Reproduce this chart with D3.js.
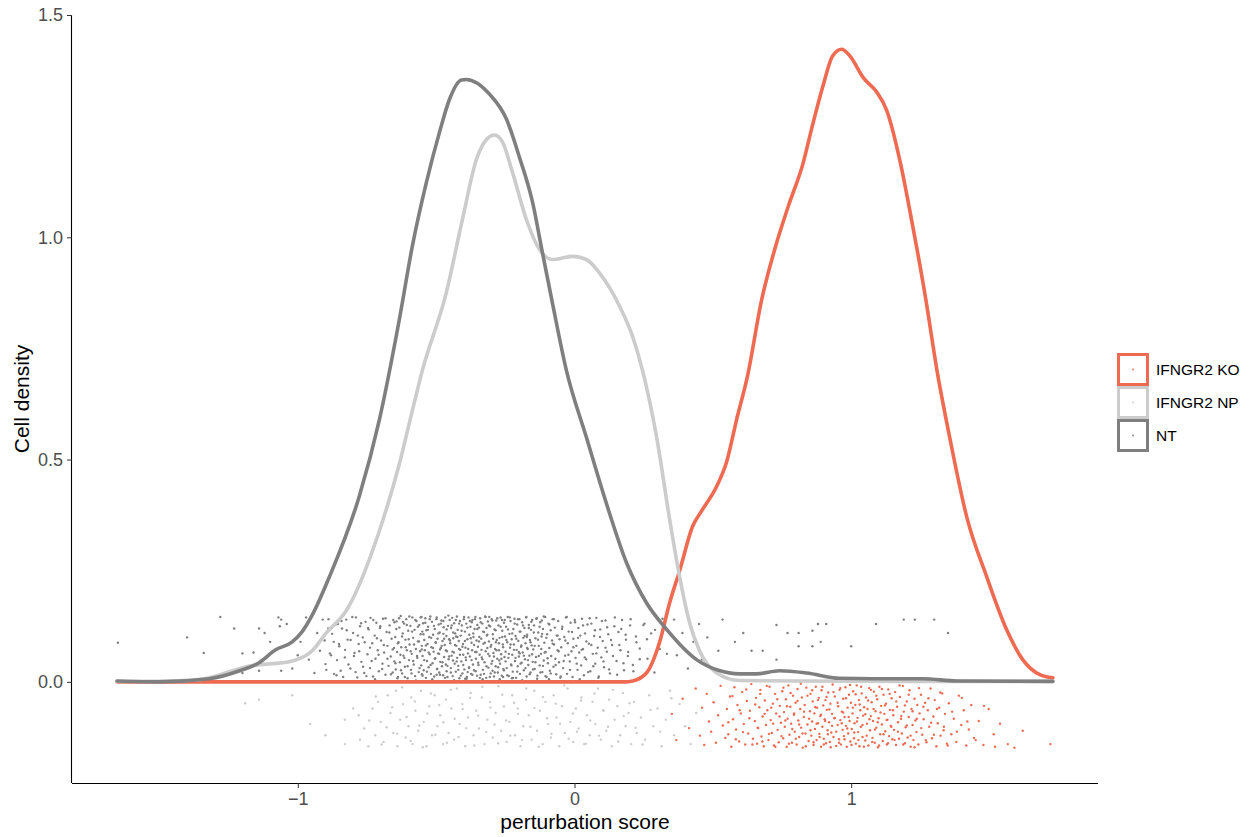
<!DOCTYPE html>
<html lang="en">
<head>
    <meta charset="utf-8">
    <title>Perturbation score density</title>
    <script src="https://d3js.org/d3.v7.min.js" charset="utf-8"></script>
    <style>
        body { margin: 0; background: #fff; }
        text { font-family: "Liberation Sans", Arial, sans-serif; }
    </style>
</head>
<body>
<svg id="chart" width="1253" height="837"></svg>
<script type="text/javascript">
    // groups, in drawing order
    var groups = ["IFNGR2 KO", "IFNGR2 NP", "NT"];
    var colours = ["#EE6A50", "#CCCCCC", "#7F7F7F"];

    var xTicks = [-1, 0, 1];
    var xTickLabels = ["\u22121", "0", "1"];
    var yTicks = [0, 0.5, 1, 1.5];
    var yTickLabels = ["0.0", "0.5", "1.0", "1.5"];

    // density curves: [score, density]
    var densKO = [[-1.653,0],[-1.0,0],[0,0],[0.181,0],[0.21,0.002],[0.26,0.02],[0.307,0.088],
        [0.344,0.178],[0.38,0.25],[0.427,0.35],[0.46,0.385],[0.514,0.44],[0.55,0.495],[0.586,0.59],
        [0.626,0.69],[0.676,0.858],[0.727,0.98],[0.774,1.072],[0.825,1.164],[0.861,1.254],
        [0.897,1.338],[0.933,1.408],[0.966,1.423],[0.995,1.408],[1.045,1.358],[1.092,1.327],
        [1.128,1.286],[1.179,1.164],[1.215,1.05],[1.266,0.874],[1.313,0.69],[1.356,0.55],
        [1.418,0.37],[1.49,0.236],[1.562,0.117],[1.62,0.05],[1.682,0.016],[1.729,0.009]];

    var densNP = [[-1.653,0.001],[-1.5,0.001],[-1.356,0.005],[-1.25,0.022],[-1.186,0.034],[-1.02,0.047],
        [-0.948,0.07],[-0.897,0.11],[-0.825,0.16],[-0.705,0.34],[-0.633,0.49],[-0.586,0.61],
        [-0.55,0.70],[-0.463,0.876],[-0.405,1.04],[-0.354,1.176],[-0.318,1.22],[-0.289,1.23],
        [-0.26,1.214],[-0.224,1.146],[-0.174,1.04],[-0.127,0.973],[-0.08,0.95],[-0.007,0.957],
        [0.043,0.95],[0.09,0.92],[0.163,0.845],[0.21,0.777],[0.246,0.70],[0.297,0.55],
        [0.344,0.365],[0.38,0.236],[0.416,0.133],[0.452,0.07],[0.514,0.02],[0.597,0.003],
        [0.814,0.002],[1.2,0.001],[1.729,0.001]];

    var densNT = [[-1.653,0.002],[-1.5,0.0],[-1.32,0.007],[-1.21,0.025],[-1.14,0.043],[-1.08,0.072],
        [-1.02,0.09],[-0.984,0.113],[-0.948,0.15],[-0.886,0.236],[-0.778,0.417],[-0.705,0.59],
        [-0.633,0.815],[-0.586,0.98],[-0.535,1.124],[-0.488,1.236],[-0.452,1.31],[-0.409,1.354],
        [-0.391,1.355],[-0.307,1.322],[-0.246,1.266],[-0.199,1.18],[-0.152,1.08],[-0.116,0.966],
        [-0.08,0.853],[-0.029,0.70],[0.043,0.55],[0.116,0.40],[0.188,0.268],[0.26,0.178],
        [0.333,0.118],[0.441,0.05],[0.52,0.026],[0.597,0.018],[0.658,0.018],[0.741,0.025],
        [0.839,0.02],[0.958,0.008],[1.078,0.007],[1.259,0.007],[1.382,0.002],[1.729,0.001]];

    // jittered cells: [score, jitter]
    var pointsNT = [[-1.65,0.088],[-1.40,0.10],[-1.34,0.065],[-1.28,0.146],[-1.23,0.12],[-1.2,0.064],
        [-1.2,0.02],[-1.16,0.066],[-1.14,0.12],[-1.14,0.025],[-1.12,0.11],[-1.1,0.09],[-1.07,0.145],
        [-1.065,0.125],[-1.06,0.14],[-1.06,0.025],[-1.04,0.13],[-1.02,0.03],[-1.0,0.06],[-0.99,0.09],
        [-0.97,0.145],[-0.96,0.05],
        [-0.94,0.02],[-0.93,0.11],[-0.92,0.07],[-0.91,0.14],[-0.90,0.04],[-0.89,0.12],[-0.88,0.06],
        [-0.87,0.09],[-0.86,0.015],[-0.855,0.13],
        [-0.85,0.08],[-0.845,0.025],[-0.84,0.12],[-0.83,0.055],[-0.825,0.14],[-0.82,0.095],[-0.81,0.03],
        [-0.80,0.11],[-0.795,0.065],[-0.79,0.145],[-0.785,0.01],[-0.78,0.085],[-0.775,0.125],
        [-0.77,0.045],[-0.765,0.10],[-0.76,0.02],[-0.755,0.135],
        [-0.748,0.062],[-0.744,0.118],[-0.739,0.031],[-0.737,0.144],[-0.731,0.087],[-0.728,0.012],
        [-0.722,0.104],[-0.719,0.052],[-0.716,0.133],[-0.711,0.071],[-0.707,0.024],[-0.703,0.121],
        [-0.699,0.093],[-0.694,0.041],[-0.692,0.142],[-0.688,0.066],[-0.683,0.016],[-0.679,0.112],
        [-0.676,0.081],[-0.672,0.036],[-0.668,0.127],[-0.664,0.057],[-0.661,0.097],[-0.657,0.021],
        [-0.655,0.139],[-0.652,0.076],[-0.651,0.046],
        [-0.648,0.101],[-0.646,0.028],[-0.643,0.136],[-0.641,0.067],[-0.638,0.011],[-0.636,0.089],
        [-0.633,0.122],[-0.631,0.044],[-0.628,0.148],[-0.626,0.078],[-0.623,0.019],[-0.621,0.109],
        [-0.618,0.059],[-0.616,0.131],[-0.613,0.034],[-0.611,0.095],[-0.608,0.141],[-0.606,0.071],
        [-0.603,0.008],[-0.601,0.115],[-0.598,0.049],[-0.596,0.084],[-0.593,0.126],[-0.591,0.027],
        [-0.588,0.063],[-0.586,0.145],[-0.583,0.099],[-0.581,0.039],[-0.578,0.117],[-0.576,0.013],
        [-0.573,0.074],[-0.571,0.137],[-0.568,0.054],[-0.566,0.091],[-0.563,0.022],[-0.561,0.128],
        [-0.558,0.069],[-0.556,0.107],[-0.554,0.037],[-0.553,0.146],[-0.552,0.081],[-0.551,0.017],
        [-0.55,0.113],
        [-0.549,0.058],[-0.547,0.132],[-0.545,0.026],[-0.543,0.094],[-0.541,0.071],[-0.539,0.143],
        [-0.537,0.009],[-0.535,0.116],[-0.533,0.047],[-0.531,0.085],[-0.529,0.124],[-0.527,0.033],
        [-0.525,0.101],[-0.523,0.062],[-0.521,0.147],[-0.519,0.018],[-0.517,0.078],[-0.515,0.135],
        [-0.513,0.042],[-0.511,0.106],[-0.509,0.068],[-0.507,0.012],[-0.505,0.119],[-0.503,0.053],
        [-0.501,0.088],[-0.499,0.141],[-0.497,0.029],[-0.495,0.097],[-0.493,0.064],[-0.491,0.129],
        [-0.489,0.021],[-0.487,0.111],[-0.485,0.045],[-0.483,0.076],[-0.481,0.138],[-0.479,0.035],
        [-0.477,0.092],[-0.475,0.015],[-0.473,0.123],[-0.471,0.056],[-0.469,0.083],[-0.467,0.145],
        [-0.465,0.039],[-0.463,0.103],[-0.461,0.069],[-0.459,0.011],[-0.457,0.126],[-0.455,0.051],
        [-0.453,0.096],[-0.451,0.139],[-0.462,0.024],[-0.474,0.108],[-0.486,0.073],[-0.498,0.016],
        [-0.449,0.087],[-0.447,0.031],[-0.446,0.121],[-0.444,0.059],[-0.442,0.144],[-0.44,0.013],
        [-0.438,0.098],[-0.436,0.066],[-0.435,0.132],[-0.433,0.041],[-0.431,0.109],[-0.429,0.023],
        [-0.427,0.081],[-0.425,0.147],[-0.424,0.054],[-0.422,0.117],[-0.42,0.036],[-0.418,0.092],
        [-0.416,0.008],[-0.414,0.137],[-0.413,0.072],[-0.411,0.104],[-0.409,0.046],[-0.407,0.127],
        [-0.405,0.019],[-0.403,0.085],[-0.402,0.061],[-0.4,0.141],[-0.398,0.028],[-0.396,0.113],
        [-0.394,0.077],[-0.392,0.049],[-0.391,0.131],[-0.389,0.011],[-0.387,0.096],[-0.385,0.064],
        [-0.383,0.145],[-0.381,0.033],[-0.38,0.106],[-0.378,0.057],[-0.376,0.124],[-0.374,0.018],
        [-0.372,0.088],[-0.37,0.071],[-0.369,0.139],[-0.367,0.039],[-0.365,0.101],[-0.363,0.026],
        [-0.361,0.119],[-0.359,0.067],[-0.358,0.146],[-0.356,0.052],[-0.354,0.093],[-0.352,0.014],
        [-0.351,0.128],[-0.395,0.007],[-0.417,0.074],[-0.428,0.102],[-0.439,0.048],[-0.371,0.134],
        [-0.386,0.022],
        [-0.349,0.079],[-0.347,0.038],[-0.345,0.122],[-0.343,0.061],[-0.341,0.143],[-0.339,0.016],
        [-0.337,0.097],[-0.335,0.055],[-0.333,0.131],[-0.331,0.027],[-0.329,0.086],[-0.327,0.112],
        [-0.325,0.044],[-0.323,0.147],[-0.321,0.069],[-0.319,0.009],[-0.317,0.104],[-0.315,0.076],
        [-0.313,0.136],[-0.311,0.032],[-0.309,0.091],[-0.307,0.058],[-0.305,0.125],[-0.303,0.019],
        [-0.301,0.083],[-0.299,0.141],[-0.297,0.047],[-0.295,0.107],[-0.293,0.065],[-0.291,0.012],
        [-0.289,0.118],[-0.287,0.074],[-0.285,0.035],[-0.283,0.138],[-0.281,0.094],[-0.279,0.052],
        [-0.277,0.021],[-0.275,0.127],[-0.273,0.071],[-0.271,0.099],[-0.269,0.041],[-0.267,0.145],
        [-0.265,0.062],[-0.263,0.014],[-0.261,0.115],[-0.259,0.084],[-0.257,0.029],[-0.255,0.133],
        [-0.253,0.056],[-0.251,0.102],[-0.332,0.006],[-0.318,0.121],[-0.296,0.025],[-0.284,0.089],
        [-0.272,0.048],[-0.262,0.139],[-0.344,0.101],[-0.308,0.146],[-0.258,0.011],
        [-0.249,0.068],[-0.247,0.124],[-0.245,0.031],[-0.243,0.089],[-0.241,0.146],[-0.239,0.054],
        [-0.237,0.013],[-0.235,0.108],[-0.233,0.077],[-0.231,0.137],[-0.229,0.039],[-0.227,0.096],
        [-0.225,0.061],[-0.223,0.023],[-0.221,0.119],[-0.219,0.084],[-0.217,0.142],[-0.215,0.047],
        [-0.213,0.103],[-0.211,0.009],[-0.209,0.072],[-0.207,0.129],[-0.205,0.035],[-0.203,0.092],
        [-0.201,0.057],[-0.199,0.141],[-0.197,0.018],[-0.195,0.113],[-0.193,0.079],[-0.191,0.043],
        [-0.189,0.134],[-0.187,0.066],[-0.185,0.099],[-0.183,0.026],[-0.181,0.121],[-0.179,0.051],
        [-0.177,0.087],[-0.175,0.145],[-0.173,0.012],[-0.171,0.106],[-0.169,0.074],[-0.167,0.038],
        [-0.165,0.128],[-0.163,0.059],[-0.161,0.094],[-0.159,0.021],[-0.157,0.117],[-0.155,0.082],
        [-0.153,0.139],[-0.151,0.045],[-0.226,0.008],[-0.198,0.064],[-0.172,0.101],
        [-0.149,0.073],[-0.146,0.127],[-0.144,0.029],[-0.141,0.098],[-0.139,0.056],[-0.136,0.143],
        [-0.134,0.014],[-0.131,0.111],[-0.129,0.081],[-0.126,0.037],[-0.124,0.134],[-0.121,0.063],
        [-0.119,0.102],[-0.116,0.022],[-0.114,0.119],[-0.111,0.048],[-0.109,0.088],[-0.106,0.146],
        [-0.104,0.067],[-0.101,0.011],[-0.099,0.107],[-0.096,0.042],[-0.094,0.131],[-0.091,0.076],
        [-0.089,0.025],[-0.086,0.116],[-0.084,0.058],[-0.081,0.093],[-0.079,0.141],[-0.076,0.034],
        [-0.074,0.084],[-0.071,0.122],[-0.069,0.052],[-0.066,0.017],[-0.064,0.104],[-0.061,0.071],
        [-0.059,0.137],[-0.056,0.044],[-0.054,0.096],[-0.051,0.009],[-0.118,0.138],[-0.092,0.006],
        [-0.048,0.078],[-0.044,0.124],[-0.041,0.031],[-0.037,0.101],[-0.034,0.059],[-0.031,0.145],
        [-0.027,0.018],[-0.024,0.087],[-0.021,0.113],[-0.017,0.046],[-0.014,0.133],[-0.011,0.069],
        [-0.007,0.011],[-0.004,0.097],[0.001,0.139],[0.004,0.054],[0.007,0.081],[0.011,0.027],
        [0.014,0.121],[0.017,0.066],[0.021,0.104],[0.024,0.037],[0.027,0.142],[0.031,0.074],
        [0.034,0.015],[0.038,0.109],[0.042,0.051],[0.047,0.129],
        [0.052,0.086],[0.057,0.024],[0.061,0.131],[0.066,0.063],[0.071,0.103],[0.075,0.041],
        [0.079,0.144],[0.084,0.077],[0.088,0.012],[0.093,0.118],[0.097,0.055],[0.102,0.092],
        [0.107,0.033],[0.112,0.138],[0.117,0.068],[0.122,0.107],[0.128,0.019],[0.136,0.083],
        [0.144,0.125],
        [0.152,0.047],[0.159,0.112],[0.166,0.071],[0.172,0.139],[0.179,0.026],[0.186,0.095],
        [0.193,0.058],[0.201,0.127],[0.211,0.038],[0.222,0.102],[0.236,0.075],
        [0.253,0.131],[0.264,0.052],[0.277,0.109],[0.289,0.021],[0.305,0.087],[0.318,0.142],
        [0.334,0.063],[0.36,0.14],[0.37,0.06],[0.39,0.11],[0.41,0.03],[0.43,0.09],[0.45,0.13],
        [0.46,0.05],[0.48,0.10],[0.52,0.07],[0.535,0.14],[0.58,0.09],[0.61,0.11],[0.64,0.07],
        [0.68,0.07],[0.73,0.128],[0.73,0.05],[0.77,0.11],[0.81,0.11],[0.81,0.08],[0.86,0.115],
        [0.86,0.08],[0.88,0.13],[0.89,0.09],[0.91,0.13],[1.0,0.08],[1.09,0.13],[1.19,0.14],
        [1.23,0.14],[1.30,0.14],[1.35,0.11]];

    // second pass over the dense NT cloud
    var pointsNTcore = [[-0.903,0.093],[-0.897,0.027],[-0.889,0.141],[-0.884,0.064],[-0.876,0.108],
        [-0.869,0.018],[-0.863,0.129],[-0.858,0.049],[-0.851,0.085],[-0.842,0.137],[-0.836,0.011],
        [-0.829,0.072],[-0.823,0.116],[-0.817,0.039],[-0.809,0.094],[-0.803,0.146],[-0.797,0.058],
        [-0.791,0.022],[-0.783,0.104],[-0.778,0.069],[-0.771,0.132],[-0.764,0.034],[-0.758,0.089],
        [-0.752,0.013],[-0.746,0.121],[-0.739,0.077],[-0.733,0.047],[-0.727,0.139],[-0.721,0.006],
        [-0.714,0.098],[-0.708,0.061],[-0.702,0.125],[-0.695,0.029],[-0.689,0.083],[-0.683,0.143],
        [-0.676,0.052],[-0.669,0.111],[-0.663,0.017],[-0.657,0.073],[-0.651,0.134],
        [-0.647,0.042],[-0.644,0.119],[-0.640,0.008],[-0.638,0.087],[-0.634,0.143],[-0.629,0.061],
        [-0.627,0.026],[-0.623,0.102],[-0.620,0.135],[-0.615,0.054],[-0.613,0.011],[-0.610,0.078],
        [-0.606,0.128],[-0.603,0.035],[-0.599,0.096],[-0.597,0.147],[-0.592,0.069],[-0.589,0.019],
        [-0.587,0.113],[-0.583,0.047],[-0.580,0.084],[-0.575,0.139],[-0.573,0.003],[-0.569,0.058],
        [-0.566,0.124],[-0.562,0.091],[-0.560,0.031],[-0.556,0.145],[-0.552,0.073],[-0.549,0.014],
        [-0.546,0.107],[-0.543,0.049],[-0.539,0.133],[-0.537,0.082],[-0.533,0.023],[-0.530,0.117],
        [-0.527,0.066],[-0.523,0.141],[-0.520,0.038],[-0.518,0.099],[-0.514,0.006],[-0.511,0.076],
        [-0.508,0.126],[-0.505,0.052],[-0.502,0.089],[-0.498,0.145],[-0.496,0.029],[-0.492,0.109],
        [-0.489,0.063],[-0.486,0.016],[-0.483,0.131],[-0.480,0.081],[-0.477,0.044],[-0.474,0.137],
        [-0.471,0.097],[-0.468,0.009],[-0.465,0.071],[-0.462,0.118],[-0.459,0.036],[-0.456,0.149],
        [-0.453,0.057],[-0.450,0.093],[-0.447,0.021],[-0.444,0.127],[-0.441,0.068],[-0.438,0.111],
        [-0.435,0.004],[-0.432,0.083],[-0.429,0.139],[-0.426,0.046],[-0.423,0.101],[-0.420,0.027],
        [-0.417,0.131],[-0.414,0.061],[-0.411,0.014],[-0.408,0.115],[-0.405,0.079],[-0.402,0.038],
        [-0.399,0.146],[-0.396,0.092],[-0.393,0.055],[-0.390,0.007],[-0.387,0.122],[-0.384,0.074],
        [-0.381,0.031],[-0.378,0.137],[-0.375,0.098],[-0.372,0.049],[-0.369,0.016],[-0.366,0.109],
        [-0.363,0.083],[-0.360,0.141],[-0.357,0.024],[-0.354,0.067],[-0.351,0.119],[-0.348,0.043],
        [-0.345,0.091],[-0.342,0.009],[-0.339,0.134],[-0.336,0.072],[-0.333,0.051],[-0.330,0.113],
        [-0.327,0.018],[-0.324,0.088],[-0.321,0.146],[-0.318,0.035],[-0.315,0.106],[-0.312,0.063],
        [-0.309,0.127],[-0.306,0.011],[-0.303,0.079],[-0.300,0.041],[-0.297,0.138],[-0.294,0.097],
        [-0.291,0.057],[-0.288,0.021],[-0.285,0.116],[-0.282,0.071],[-0.279,0.143],[-0.276,0.033],
        [-0.273,0.087],[-0.270,0.006],[-0.267,0.124],[-0.264,0.052],[-0.261,0.101],[-0.258,0.078],
        [-0.255,0.026],[-0.252,0.139],[-0.249,0.046],[-0.246,0.094],[-0.243,0.015],[-0.240,0.118],
        [-0.237,0.063],[-0.234,0.145],[-0.231,0.084],[-0.228,0.037],[-0.225,0.109],[-0.222,0.009],
        [-0.219,0.072],[-0.216,0.131],[-0.213,0.054],[-0.210,0.097],[-0.207,0.023],[-0.204,0.141],
        [-0.201,0.067],[-0.198,0.113],[-0.195,0.041],[-0.192,0.082],[-0.189,0.004],[-0.186,0.127],
        [-0.183,0.059],[-0.180,0.103],[-0.177,0.031],[-0.174,0.146],[-0.171,0.076],[-0.168,0.049],
        [-0.165,0.121],[-0.162,0.017],[-0.159,0.089],[-0.156,0.135],[-0.153,0.062],[-0.150,0.028],
        [-0.147,0.111],[-0.144,0.081],[-0.141,0.044],[-0.138,0.142],[-0.135,0.007],[-0.132,0.095],
        [-0.129,0.058],[-0.126,0.124],[-0.123,0.021],[-0.120,0.074],[-0.117,0.108],[-0.114,0.036],
        [-0.111,0.147],[-0.108,0.066],[-0.105,0.013],[-0.102,0.099],
        [-0.097,0.053],[-0.091,0.129],[-0.086,0.019],[-0.079,0.086],[-0.074,0.141],[-0.068,0.038],
        [-0.061,0.104],[-0.057,0.069],[-0.050,0.012],[-0.045,0.119],[-0.039,0.047],[-0.033,0.093],
        [-0.028,0.146],[-0.022,0.061],[-0.016,0.027],[-0.009,0.112],[-0.004,0.078],[0.002,0.134],
        [0.008,0.041],[0.013,0.099],[0.019,0.006],[0.026,0.072],[0.031,0.127],[0.037,0.055],
        [0.043,0.091],[0.049,0.022],[0.055,0.143],[0.061,0.083],[0.068,0.035],[0.074,0.116],
        [0.079,0.064],[0.086,0.009],[0.092,0.101],[0.099,0.137],[0.105,0.046],[0.112,0.077],
        [0.118,0.123],[0.125,0.028],[0.132,0.094],[0.139,0.058],[0.146,0.145],[0.154,0.016],
        [0.162,0.083],[0.169,0.119],[0.177,0.042],[0.185,0.106],[0.194,0.067],[0.203,0.141],
        [0.213,0.024],[0.224,0.089],[0.236,0.051],[0.249,0.128],[0.262,0.096],[0.276,0.036],
        [0.291,0.117],[0.308,0.074],[0.327,0.141]];

    var pointsNP = [[-1.19,-0.048],[-1.14,-0.04],[-1.02,-0.03],[-0.955,-0.095],[-0.90,-0.12],
        [-0.83,-0.085],[-0.83,-0.14],[-0.80,-0.06],[-0.78,-0.075],[-0.775,-0.13],[-0.76,-0.105],
        [-0.745,-0.145],[-0.73,-0.06],[-0.72,-0.12],[-0.71,-0.045],[-0.70,-0.09],[-0.69,-0.135],
        [-0.675,-0.03],[-0.665,-0.07],[-0.655,-0.115],[-0.645,-0.02],[-0.64,-0.145],[-0.63,-0.085],
        [-0.62,-0.05],[-0.61,-0.125],[-0.60,-0.1],[-0.59,-0.035],[-0.585,-0.14],[-0.575,-0.065],
        [-0.565,-0.11],[-0.555,-0.02],[-0.545,-0.09],[-0.535,-0.145],[-0.525,-0.055],[-0.515,-0.12],
        [-0.505,-0.03],[-0.495,-0.1],[-0.485,-0.075],[-0.475,-0.14],[-0.465,-0.04],[-0.455,-0.115],
        [-0.445,-0.06],[-0.435,-0.13],[-0.425,-0.015],[-0.415,-0.095],[-0.405,-0.05],[-0.395,-0.145],
        [-0.385,-0.08],[-0.375,-0.025],[-0.365,-0.12],[-0.355,-0.065],[-0.345,-0.105],[-0.335,-0.035],
        [-0.325,-0.14],[-0.315,-0.085],[-0.305,-0.045],[-0.295,-0.125],[-0.285,-0.07],[-0.275,-0.01],
        [-0.265,-0.11],[-0.255,-0.055],[-0.245,-0.135],[-0.235,-0.09],[-0.225,-0.03],[-0.215,-0.12],
        [-0.205,-0.06],[-0.195,-0.145],[-0.185,-0.1],[-0.175,-0.04],[-0.165,-0.075],[-0.155,-0.13],
        [-0.145,-0.02],[-0.135,-0.11],[-0.125,-0.065],[-0.115,-0.14],[-0.105,-0.045],[-0.095,-0.095],
        [-0.085,-0.125],[-0.075,-0.03],[-0.065,-0.08],[-0.055,-0.145],[-0.045,-0.055],[-0.035,-0.115],
        [-0.025,-0.015],[-0.015,-0.09],[-0.005,-0.135],[0.005,-0.06],[0.015,-0.105],[0.025,-0.035],
        [0.035,-0.14],[0.045,-0.075],[0.055,-0.12],[0.065,-0.045],[0.075,-0.095],[0.085,-0.015],
        [0.095,-0.13],[0.105,-0.065],[0.115,-0.11],[0.125,-0.04],[0.135,-0.145],[0.145,-0.085],
        [0.155,-0.055],[0.165,-0.12],[0.175,-0.025],[0.185,-0.1],[0.195,-0.07],[0.205,-0.14],
        [0.215,-0.045],[0.225,-0.115],[0.24,-0.08],[0.255,-0.13],[0.27,-0.03],[0.285,-0.1],
        [0.3,-0.06],[0.315,-0.145],[0.33,-0.085],[0.345,-0.02],[0.36,-0.12],[0.38,-0.05],
        [0.40,-0.1],[0.42,-0.14],[0.44,-0.07],
        [-0.742,-0.087],[-0.718,-0.033],[-0.697,-0.141],[-0.679,-0.102],[-0.659,-0.057],
        [-0.641,-0.117],[-0.623,-0.012],[-0.607,-0.079],[-0.592,-0.133],[-0.577,-0.044],
        [-0.561,-0.098],[-0.548,-0.147],[-0.532,-0.071],[-0.519,-0.026],[-0.503,-0.119],
        [-0.489,-0.052],[-0.474,-0.091],[-0.461,-0.137],[-0.447,-0.018],[-0.433,-0.083],
        [-0.419,-0.124],[-0.404,-0.061],[-0.391,-0.104],[-0.377,-0.036],[-0.362,-0.143],
        [-0.348,-0.076],[-0.333,-0.011],[-0.319,-0.113],[-0.304,-0.058],[-0.289,-0.096],
        [-0.276,-0.138],[-0.261,-0.029],[-0.247,-0.087],[-0.232,-0.121],[-0.218,-0.047],
        [-0.204,-0.072],[-0.189,-0.131],[-0.174,-0.015],[-0.159,-0.101],[-0.145,-0.059],
        [-0.129,-0.146],[-0.114,-0.034],[-0.099,-0.082],[-0.083,-0.117],[-0.068,-0.049],
        [-0.052,-0.094],[-0.037,-0.008],[-0.021,-0.128],[-0.006,-0.071],[0.009,-0.112],
        [0.024,-0.042],[0.041,-0.139],[0.057,-0.087],[0.072,-0.026],[0.088,-0.121],
        [0.104,-0.064],[0.121,-0.101],[0.139,-0.018],[0.158,-0.134],[0.178,-0.077],
        [0.199,-0.048],[0.221,-0.103],[0.246,-0.141],[0.275,-0.063],[0.31,-0.112],[0.35,-0.037]];

    var pointsKO = [[0.352,-0.072],[0.368,-0.131],[0.391,-0.038],[0.414,-0.104],[0.438,-0.015],
        [0.453,-0.121],[0.461,-0.058],[0.469,-0.142],[0.478,-0.027],[0.486,-0.089],[0.494,-0.112],
        [0.503,-0.046],[0.511,-0.137],[0.519,-0.075],[0.528,-0.009],[0.536,-0.098],[0.545,-0.126],
        [0.551,-0.061],[0.556,-0.118],[0.562,-0.033],[0.567,-0.146],[0.573,-0.084],[0.578,-0.012],
        [0.584,-0.107],[0.589,-0.052],[0.595,-0.134],[0.601,-0.071],[0.606,-0.023],[0.612,-0.095],
        [0.617,-0.141],[0.623,-0.043],[0.628,-0.116],[0.634,-0.065],[0.639,-0.005],[0.645,-0.128],
        [0.652,-0.088],[0.656,-0.036],[0.66,-0.139],[0.664,-0.104],[0.668,-0.057],[0.672,-0.018],
        [0.676,-0.123],[0.68,-0.078],[0.684,-0.145],[0.688,-0.042],[0.692,-0.097],[0.697,-0.064],
        [0.701,-0.131],[0.705,-0.011],[0.709,-0.086],[0.713,-0.115],[0.717,-0.049],[0.721,-0.143],
        [0.725,-0.027],[0.729,-0.071],[0.734,-0.108],[0.738,-0.136],[0.742,-0.054],[0.746,-0.092],
        [0.751,-0.021],[0.754,-0.127],[0.757,-0.068],[0.76,-0.101],[0.764,-0.039],[0.767,-0.146],
        [0.77,-0.083],[0.773,-0.008],[0.777,-0.119],[0.78,-0.056],[0.783,-0.094],[0.786,-0.137],
        [0.79,-0.031],[0.793,-0.074],[0.796,-0.112],[0.799,-0.047],[0.803,-0.141],[0.806,-0.016],
        [0.809,-0.087],[0.812,-0.124],[0.816,-0.061],[0.819,-0.103],[0.822,-0.035],[0.825,-0.148],
        [0.829,-0.079],[0.832,-0.052],[0.835,-0.116],[0.838,-0.013],[0.842,-0.096],[0.846,-0.133],
        [0.851,-0.066],[0.853,-0.027],[0.856,-0.121],[0.859,-0.089],[0.861,-0.044],[0.864,-0.142],
        [0.867,-0.071],[0.869,-0.106],[0.872,-0.011],[0.875,-0.131],[0.877,-0.058],[0.88,-0.093],
        [0.883,-0.036],[0.885,-0.117],[0.888,-0.077],[0.891,-0.146],[0.893,-0.019],[0.896,-0.101],
        [0.899,-0.053],[0.901,-0.128],[0.904,-0.084],[0.907,-0.041],[0.909,-0.138],[0.912,-0.063],
        [0.915,-0.109],[0.917,-0.024],[0.92,-0.091],[0.923,-0.135],[0.925,-0.049],[0.928,-0.114],
        [0.931,-0.072],[0.933,-0.006],[0.936,-0.124],[0.939,-0.082],[0.941,-0.033],[0.946,-0.144],
        [0.951,-0.097],[0.953,-0.055],[0.956,-0.129],[0.958,-0.018],[0.961,-0.086],[0.963,-0.141],
        [0.966,-0.067],[0.969,-0.108],[0.971,-0.038],[0.974,-0.122],[0.976,-0.079],[0.979,-0.012],
        [0.981,-0.099],[0.984,-0.146],[0.987,-0.058],[0.989,-0.116],[0.992,-0.029],[0.994,-0.088],
        [0.997,-0.134],[0.999,-0.047],[1.002,-0.106],[1.005,-0.071],[1.007,-0.021],[1.01,-0.127],
        [1.012,-0.093],[1.015,-0.052],[1.017,-0.139],[1.02,-0.008],[1.023,-0.081],[1.025,-0.113],
        [1.028,-0.041],[1.03,-0.145],[1.033,-0.064],[1.035,-0.101],[1.038,-0.026],[1.041,-0.124],
        [1.043,-0.076],[1.047,-0.057],
        [1.051,-0.132],[1.054,-0.035],[1.057,-0.094],[1.059,-0.061],[1.062,-0.143],[1.065,-0.014],
        [1.068,-0.109],[1.071,-0.077],[1.074,-0.046],[1.077,-0.126],[1.079,-0.088],[1.082,-0.022],
        [1.085,-0.137],[1.088,-0.066],[1.091,-0.103],[1.094,-0.039],[1.097,-0.147],[1.099,-0.082],
        [1.102,-0.011],[1.105,-0.118],[1.108,-0.054],[1.111,-0.096],[1.114,-0.133],[1.117,-0.029],
        [1.12,-0.072],[1.123,-0.111],[1.126,-0.049],[1.129,-0.141],[1.131,-0.085],[1.134,-0.017],
        [1.137,-0.122],[1.14,-0.063],[1.143,-0.099],[1.146,-0.037],[1.149,-0.129],
        [1.152,-0.075],[1.155,-0.108],[1.159,-0.023],[1.162,-0.142],[1.166,-0.056],[1.169,-0.091],
        [1.173,-0.128],[1.176,-0.034],[1.18,-0.083],[1.183,-0.116],[1.187,-0.009],[1.19,-0.067],
        [1.194,-0.138],[1.197,-0.102],[1.201,-0.044],[1.204,-0.125],[1.208,-0.079],[1.211,-0.019],
        [1.215,-0.146],[1.218,-0.061],[1.222,-0.097],[1.225,-0.131],[1.229,-0.038],[1.232,-0.087],
        [1.236,-0.113],[1.239,-0.052],[1.243,-0.141],[1.247,-0.071],
        [1.252,-0.029],[1.257,-0.119],[1.262,-0.084],[1.267,-0.047],[1.272,-0.136],[1.277,-0.064],
        [1.282,-0.101],[1.287,-0.015],[1.292,-0.127],[1.297,-0.078],[1.302,-0.041],[1.308,-0.145],
        [1.313,-0.093],[1.318,-0.058],[1.323,-0.121],[1.329,-0.026],[1.334,-0.109],[1.339,-0.072],
        [1.346,-0.139],
        [1.353,-0.048],[1.362,-0.118],[1.371,-0.083],[1.38,-0.135],[1.389,-0.031],[1.398,-0.097],
        [1.407,-0.064],[1.416,-0.143],[1.425,-0.107],[1.434,-0.052],[1.444,-0.126],
        [1.461,-0.088],[1.478,-0.142],[1.497,-0.061],[1.515,-0.118],[1.538,-0.094],
        [1.566,-0.14],[1.59,-0.148],[1.62,-0.11],[1.72,-0.14]];

    // second pass over the KO cloud
    var pointsKOcore = [[0.556,-0.091],[0.571,-0.032],[0.583,-0.129],[0.597,-0.064],[0.609,-0.113],
        [0.621,-0.017],[0.632,-0.082],[0.643,-0.141],[0.653,-0.051],[0.662,-0.103],[0.671,-0.027],
        [0.679,-0.134],[0.687,-0.072],[0.695,-0.009],[0.703,-0.117],[0.711,-0.058],[0.718,-0.094],
        [0.726,-0.146],[0.733,-0.039],[0.741,-0.078],[0.748,-0.122],[0.755,-0.013],[0.762,-0.087],
        [0.768,-0.055],[0.775,-0.139],[0.781,-0.025],[0.787,-0.106],[0.794,-0.071],[0.800,-0.128],
        [0.806,-0.043],[0.812,-0.096],[0.818,-0.004],[0.824,-0.116],[0.830,-0.067],[0.836,-0.145],
        [0.842,-0.031],[0.848,-0.083],[0.853,-0.109],[0.859,-0.019],[0.864,-0.136],[0.870,-0.057],
        [0.875,-0.094],[0.880,-0.041],[0.886,-0.124],[0.891,-0.074],[0.896,-0.011],[0.901,-0.141],
        [0.906,-0.088],[0.911,-0.034],[0.916,-0.118],[0.921,-0.062],[0.926,-0.147],[0.931,-0.099],
        [0.936,-0.023],[0.941,-0.081],[0.946,-0.112],[0.951,-0.047],[0.956,-0.137],[0.961,-0.014],
        [0.966,-0.093],[0.971,-0.069],[0.976,-0.129],[0.981,-0.037],[0.986,-0.105],[0.991,-0.079],
        [0.996,-0.007],[1.001,-0.142],[1.006,-0.058],[1.011,-0.114],[1.016,-0.028],[1.021,-0.089],
        [1.026,-0.131],[1.031,-0.051],[1.036,-0.011],[1.041,-0.097],[1.046,-0.146],[1.051,-0.073],
        [1.056,-0.121],[1.061,-0.042],[1.066,-0.084],[1.071,-0.018],[1.076,-0.135],[1.081,-0.061],
        [1.086,-0.107],[1.091,-0.031],[1.096,-0.091],[1.101,-0.143],[1.106,-0.069],[1.111,-0.016],
        [1.117,-0.118],[1.122,-0.053],[1.128,-0.086],[1.133,-0.138],[1.139,-0.027],[1.145,-0.101],
        [1.151,-0.064],[1.157,-0.131],[1.163,-0.044],[1.169,-0.112],[1.175,-0.008],[1.181,-0.077],
        [1.188,-0.141],[1.194,-0.053],[1.201,-0.098],[1.208,-0.029],[1.215,-0.121],[1.222,-0.066],
        [1.229,-0.147],[1.237,-0.083],[1.245,-0.014],[1.253,-0.104],[1.261,-0.056],[1.270,-0.131],
        [1.279,-0.037],[1.289,-0.092],[1.299,-0.119],[1.31,-0.061],[1.322,-0.024],[1.335,-0.101],
        [1.349,-0.143],[1.365,-0.067],[1.382,-0.112],[1.40,-0.036],[1.42,-0.089],[1.45,-0.131],
        [1.48,-0.054],[1.52,-0.146]];

    var densities = [densKO, densNP, densNT];
    var pointSets = [pointsKO.concat(pointsKOcore), pointsNP, pointsNT.concat(pointsNTcore)];

    var svg = d3.select("#chart");
    var x = d3.scaleLinear().domain([-1.816, 1.892]).range([72, 1098]);
    var y = d3.scaleLinear().domain([-0.2275, 1.5]).range([783, 15]);

    // jittered points
    pointSets.forEach(function (pts, i) {
        svg.append("g").selectAll("circle").data(pts).enter()
            .append("circle")
            .attr("cx", function (d) { return x(d[0]); })
            .attr("cy", function (d) { return y(d[1]); })
            .attr("r", 1.2)
            .attr("fill", colours[i]);
    });

    // density lines
    var line = d3.line()
        .x(function (d) { return x(d[0]); })
        .y(function (d) { return y(d[1]); })
        .curve(d3.curveMonotoneX);

    densities.forEach(function (dd, i) {
        svg.append("path")
            .attr("d", line(dd))
            .attr("fill", "none")
            .attr("stroke", colours[i])
            .attr("stroke-width", 3.6)
            .attr("stroke-linejoin", "round")
            .attr("stroke-linecap", "round");
    });

    // axes
    var xAxis = svg.append("g")
        .attr("transform", "translate(0,783)")
        .call(d3.axisBottom(x).tickValues(xTicks).tickSize(5).tickPadding(4)
            .tickFormat(function (d, i) { return xTickLabels[i]; }));
    var yAxis = svg.append("g")
        .attr("transform", "translate(72,0)")
        .call(d3.axisLeft(y).tickValues(yTicks).tickSize(5).tickPadding(4)
            .tickFormat(function (d, i) { return yTickLabels[i]; }));

    [xAxis, yAxis].forEach(function (a) {
        a.select(".domain").attr("stroke", "#000").attr("stroke-width", 1.1);
        a.selectAll(".tick line").attr("stroke", "#333");
        a.selectAll(".tick text")
            .attr("fill", "#4D4D4D")
            .attr("font-size", "18px")
            .attr("font-family", "Liberation Sans, Arial, sans-serif");
    });
    // axis lines span the panel only, no outer ticks
    xAxis.select(".domain").attr("d", "M72,0.5H1098");
    yAxis.select(".domain").attr("d", "M-0.5,783V15");

    svg.append("text")
        .attr("x", 585)
        .attr("y", 829)
        .attr("text-anchor", "middle")
        .attr("font-size", "21px")
        .attr("fill", "#000")
        .text("perturbation score");

    svg.append("text")
        .attr("transform", "translate(29,399) rotate(-90)")
        .attr("text-anchor", "middle")
        .attr("font-size", "21px")
        .attr("fill", "#000")
        .text("Cell density");

    // legend
    var legend = svg.append("g").attr("transform", "translate(1117,353)");
    var keys = legend.selectAll("g").data(groups).enter()
        .append("g")
        .attr("transform", function (d, i) { return "translate(0," + (i * 33) + ")"; });
    keys.append("rect")
        .attr("x", 1.5).attr("y", 1.5)
        .attr("width", 29).attr("height", 30)
        .attr("fill", "#fff")
        .attr("stroke", function (d, i) { return colours[i]; })
        .attr("stroke-width", 3);
    keys.append("circle")
        .attr("cx", 16).attr("cy", 16.5).attr("r", 0.9)
        .attr("fill", function (d, i) { return colours[i]; });
    keys.append("text")
        .attr("x", 39).attr("y", 16.5)
        .attr("dy", "0.36em")
        .attr("font-size", "15.5px")
        .attr("fill", "#000")
        .text(function (d) { return d; });
</script>
</body>
</html>
